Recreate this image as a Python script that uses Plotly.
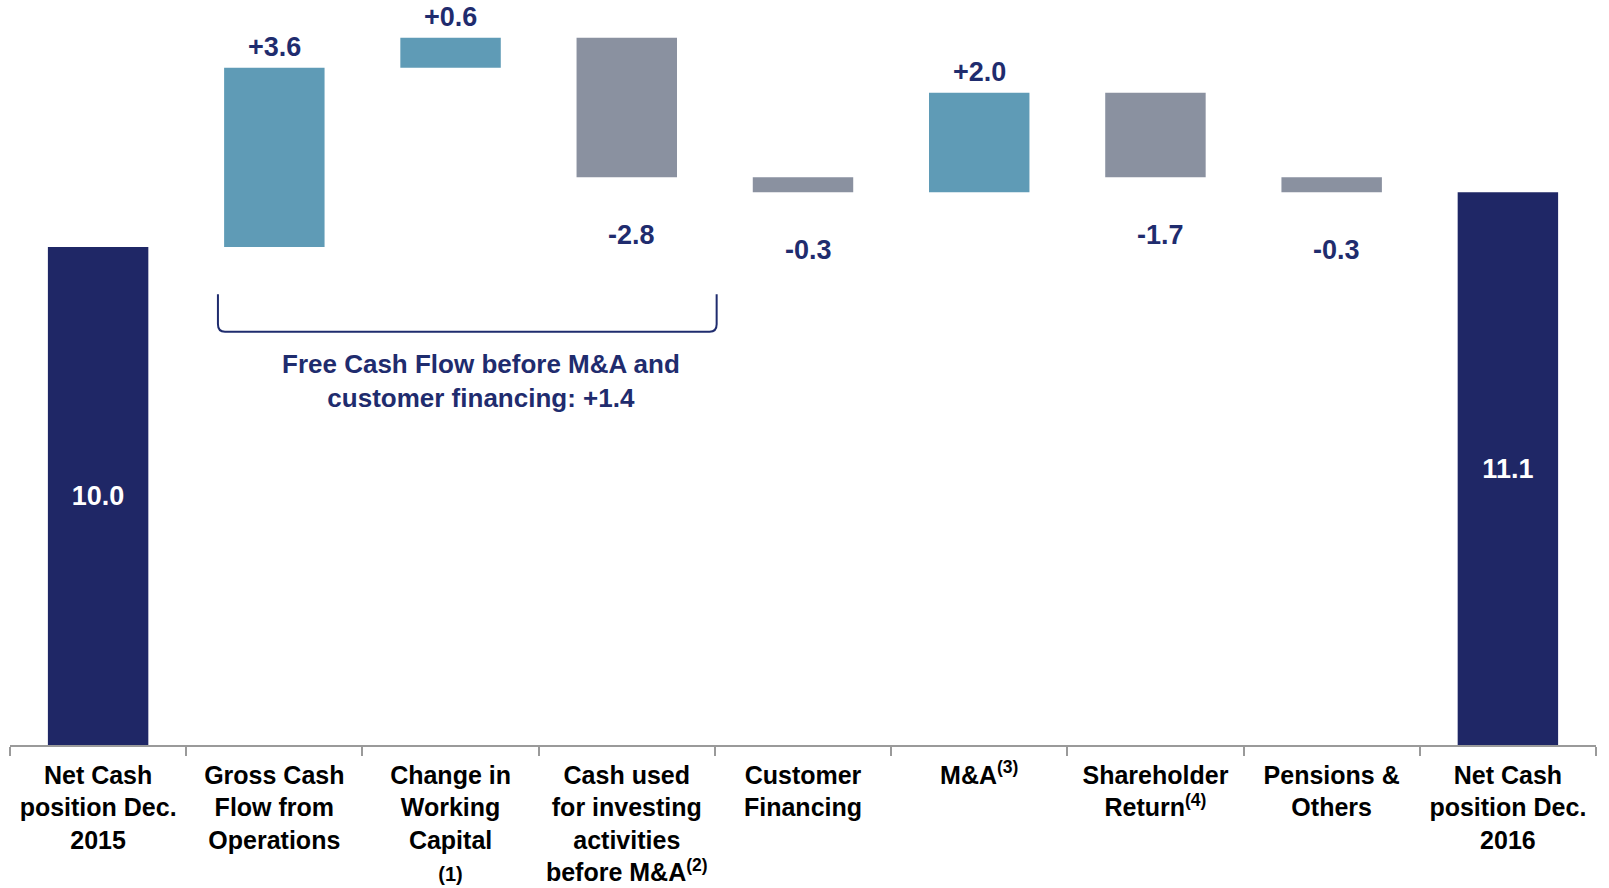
import plotly.graph_objects as go

categories = [
    "Net Cash<br>position Dec.<br>2015",
    "Gross Cash<br>Flow from<br>Operations",
    "Change in<br>Working<br>Capital<br><span style='font-size:20px'>(1)</span>",
    "Cash used<br>for investing<br>activities<br>before M&A<sup>(2)</sup>",
    "Customer<br>Financing",
    "M&A<sup>(3)</sup>",
    "Shareholder<br>Return<sup>(4)</sup>",
    "Pensions &<br>Others",
    "Net Cash<br>position Dec.<br>2016",
]
values = [10.0, 3.6, 0.6, -2.8, -0.3, 2.0, -1.7, -0.3, 11.1]
measures = ["absolute", "relative", "relative", "relative", "relative",
            "relative", "relative", "relative", "total"]
delta_labels = ["", "+3.6", "+0.6", "-2.8", "-0.3", "+2.0", "-1.7", "-0.3", ""]
total_labels = ["10.0", "", "", "", "", "", "", "", "11.1"]
bracket_note = "Free Cash Flow before M&A and<br>customer financing: +1.4"
bracket_first, bracket_last = 1, 3

NAVY = "#1F2766"
TEAL = "#5F9BB6"
GREY = "#8A91A0"
LABEL = "#1F2C6E"
FONT = "Arial, Liberation Sans, sans-serif"
BAR_W = 0.57

fig = go.Figure()
fig.add_trace(go.Waterfall(
    x=categories, y=values, measure=measures,
    text=total_labels,
    textposition=["inside" if t else "none" for t in total_labels],
    insidetextanchor="middle",
    insidetextfont=dict(color="white", size=27, family=FONT, weight="bold"),
    increasing=dict(marker=dict(color=TEAL)),
    decreasing=dict(marker=dict(color=GREY)),
    totals=dict(marker=dict(color=NAVY)),
    connector=dict(visible=False),
    width=BAR_W,
    hoverinfo="skip",
))

# running levels for label placement
level = 0.0
for cat, m, v, lab in zip(categories, measures, values, delta_labels):
    if m == "absolute" or m == "total":
        level = v
        continue
    start, end = level, level + v
    level = end
    if not lab:
        continue
    if v >= 0:
        fig.add_annotation(x=cat, y=max(start, end), text=f"<b>{lab}</b>",
                           showarrow=False, yanchor="middle", yshift=21,
                           font=dict(size=27, color=LABEL, family=FONT))
    else:
        fig.add_annotation(x=cat, y=min(start, end), text=f"<b>{lab}</b>",
                           showarrow=False, yanchor="middle", yshift=-58, xshift=5,
                           font=dict(size=27, color=LABEL, family=FONT))

# bracket on a hidden numeric overlay axis
x0 = bracket_first - BAR_W / 2 - 0.035
x1 = bracket_last + 0.51
ytop, ybot = 9.05, 8.30
rx, ry = 0.04, 0.15
path = (f"M {x0},{ytop} L {x0},{ybot+ry} Q {x0},{ybot} {x0+rx},{ybot} "
        f"L {x1-rx},{ybot} Q {x1},{ybot} {x1},{ybot+ry} L {x1},{ytop}")
fig.add_shape(type="path", path=path, xref="x2", yref="y",
              line=dict(color=LABEL, width=2))
fig.add_annotation(x=(x0 + x1) / 2 + 0.08, y=7.31, xref="x2", yref="y",
                   text=f"<b>{bracket_note}</b>", showarrow=False,
                   font=dict(size=26, color=LABEL, family=FONT))

fig.update_layout(
    width=1609, height=888, autosize=False,
    margin=dict(l=10, r=13, t=0, b=143),
    plot_bgcolor="white", paper_bgcolor="white",
    showlegend=False,
    font=dict(family=FONT),
    xaxis=dict(type="category", tickson="boundaries", ticks="outside",
               ticklen=9, tickcolor="#9A9A9A", tickwidth=1.5,
               showline=True, linecolor="#9A9A9A", linewidth=1.5,
               showgrid=False, tickangle=0, ticklabelstandoff=7,
               automargin=False,
               tickfont=dict(size=25, color="black", family=FONT, weight="bold")),
    xaxis2=dict(overlaying="x", range=[-0.5, 8.5], visible=False,
                showgrid=False, zeroline=False, automargin=False),
    yaxis=dict(range=[0, 14.96], visible=False, showgrid=False, zeroline=False,
               automargin=False),
)

fig.write_html("out.html", config={"displayModeBar": False},
               post_script="document.body.style.margin='0';")
